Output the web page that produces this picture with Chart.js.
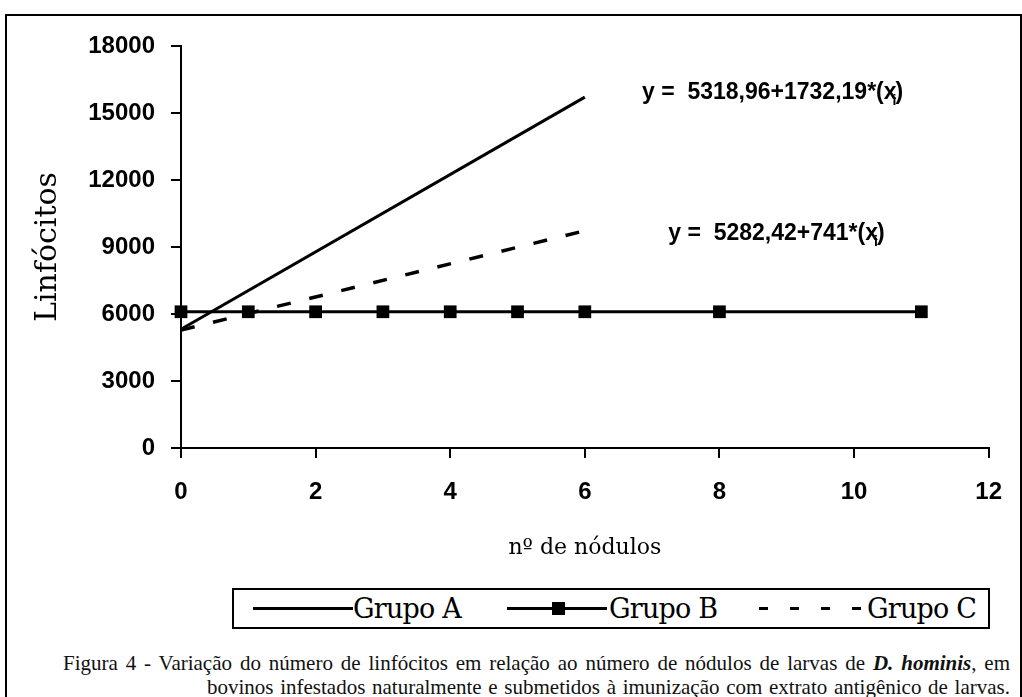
<!DOCTYPE html>
<html>
<head>
<meta charset="utf-8">
<script src="https://cdn.jsdelivr.net/npm/chart.js@4.4.0/dist/chart.umd.min.js"></script>
<style>
body{margin:0;background:#fff;width:1022px;height:697px;overflow:hidden;position:relative}
#frame{position:absolute;left:5px;top:14px;width:1013px;height:700px;border:2px solid #000;border-bottom:none}
#wrap{position:absolute;left:0;top:0;width:1022px;height:580px}
#legend{position:absolute;left:232px;top:588px;width:754px;height:37px;border:2px solid #000;background:#fff;
  font-family:"DejaVu Serif",serif;font-size:27px;color:#000}
#legend .t{position:absolute;top:50%;transform:translateY(-52%);line-height:1;white-space:nowrap;letter-spacing:-0.8px}
#legend .ln{position:absolute;top:17px;height:3px;background:#000}
#legend .mk{position:absolute;top:12px;width:13px;height:13px;background:#000}
#legend .ds{position:absolute;top:17px;height:3px;width:9px;background:#000}
#caption{position:absolute;left:0;top:651px;font-family:"Liberation Serif","Times New Roman",serif;font-size:21px;color:#111}
#caption div{position:absolute;white-space:nowrap;text-align:justify;text-align-last:justify}
</style>
</head>
<body>
<div id="frame"></div>
<div id="wrap"><canvas id="chart" width="1022" height="580"></canvas></div>
<div id="legend">
  <div class="ln" style="left:19px;width:100px"></div>
  <div class="t" style="left:119px">Grupo A</div>
  <div class="ln" style="left:273px;width:100px"></div>
  <div class="mk" style="left:318px"></div>
  <div class="t" style="left:375px">Grupo B</div>
  <div class="ds" style="left:525px"></div>
  <div class="ds" style="left:556px"></div>
  <div class="ds" style="left:587px"></div>
  <div class="ds" style="left:618px"></div>
  <div class="t" style="left:633px">Grupo C</div>
</div>
<div id="caption">
  <div style="left:63px;top:0;width:947px">Figura 4 - Variação do número de linfócitos em relação ao número de nódulos de larvas de <b><i>D. hominis</i></b>, em</div>
  <div style="left:207px;top:24px;width:803px">bovinos infestados naturalmente e submetidos à imunização com extrato antigênico de larvas.</div>
</div>
<script>
// valores
const grupoA_x = [0, 6]
const grupoA_y = [5320, 15710]
const grupoB_x = [0, 1, 2, 3, 4, 5, 6, 8, 11]
const grupoB_y = [6100, 6100, 6100, 6100, 6100, 6100, 6100, 6100, 6100]
const grupoC_x = [0, 6]
const grupoC_y = [5280, 9730]
const xTicks = [0, 2, 4, 6, 8, 10, 12]
const yTicks = [0, 3000, 6000, 9000, 12000, 15000, 18000]
const equacoes = [
  { x: 6.85, y: 15896, text: 'y =  5318,96+1732,19*(x' },
  { x: 7.24, y: 9582, text: 'y =  5282,42+741*(x' }
]

const pts = (xs, ys) => xs.map((x, i) => ({ x: x, y: ys[i] }))

const eqPlugin = {
  id: 'eq',
  afterDraw(chart) {
    const ctx = chart.ctx
    const xs = chart.scales.x, ys = chart.scales.y
    ctx.save()
    ctx.fillStyle = '#000'
    ctx.textBaseline = 'middle'
    equacoes.forEach(e => {
      let px = xs.getPixelForValue(e.x)
      const py = ys.getPixelForValue(e.y)
      ctx.font = 'bold 23px "Liberation Sans", Arial, sans-serif'
      ctx.fillText(e.text, px, py)
      px += ctx.measureText(e.text).width
      ctx.font = 'bold 14px "Liberation Sans", Arial, sans-serif'
      ctx.fillText('i', px - 4, py + 8)
      ctx.font = 'bold 23px "Liberation Sans", Arial, sans-serif'
      ctx.fillText(')', px - 1, py)
    })
    ctx.restore()
  }
}

const tickFont = { family: 'Liberation Sans', size: 24, weight: 'bold' }

new Chart(document.getElementById('chart'), {
  type: 'line',
  data: {
    datasets: [
      { label: 'Grupo A', data: pts(grupoA_x, grupoA_y), borderColor: '#000', borderWidth: 3, pointRadius: 0, clip: false },
      { label: 'Grupo B', data: pts(grupoB_x, grupoB_y), borderColor: '#000', backgroundColor: '#000', borderWidth: 3,
        pointStyle: 'rect', pointRadius: 9, pointBorderWidth: 0, clip: false },
      { label: 'Grupo C', data: pts(grupoC_x, grupoC_y), borderColor: '#000', borderWidth: 3.5, borderDash: [14, 19], pointRadius: 0, clip: false }
    ]
  },
  options: {
    responsive: false,
    animation: false,
    layout: { padding: { left: 20, top: 46, right: 24, bottom: 0 } },
    plugins: { legend: { display: false }, tooltip: { enabled: false } },
    scales: {
      x: {
        type: 'linear', min: 0, max: 12,
        afterBuildTicks: s => { s.ticks = xTicks.map(v => ({ value: v })) },
        ticks: { font: tickFont, color: '#000', padding: 20, callback: v => String(v) },
        grid: { drawOnChartArea: false, color: '#000', lineWidth: 2, tickLength: 10 },
        border: { color: '#000', width: 2 },
        title: { display: true, text: 'nº de nódulos', color: '#000',
          font: { family: 'DejaVu Serif', size: 22 }, padding: { top: 0, bottom: 19 } },
        afterFit: s => { s.height = 132 }
      },
      y: {
        type: 'linear', min: 0, max: 18000,
        afterBuildTicks: s => { s.ticks = yTicks.map(v => ({ value: v })) },
        ticks: { font: tickFont, color: '#000', padding: 16, callback: v => String(v) },
        grid: { drawOnChartArea: false, color: '#000', lineWidth: 2, tickLength: 10 },
        border: { color: '#000', width: 2 },
        title: { display: true, text: 'Linfócitos', color: '#000',
          font: { family: 'DejaVu Serif', size: 30 }, padding: { top: 10, bottom: 0 } },
        afterFit: s => { s.width = 161 }
      }
    }
  },
  plugins: [eqPlugin]
})
</script>
</body>
</html>
